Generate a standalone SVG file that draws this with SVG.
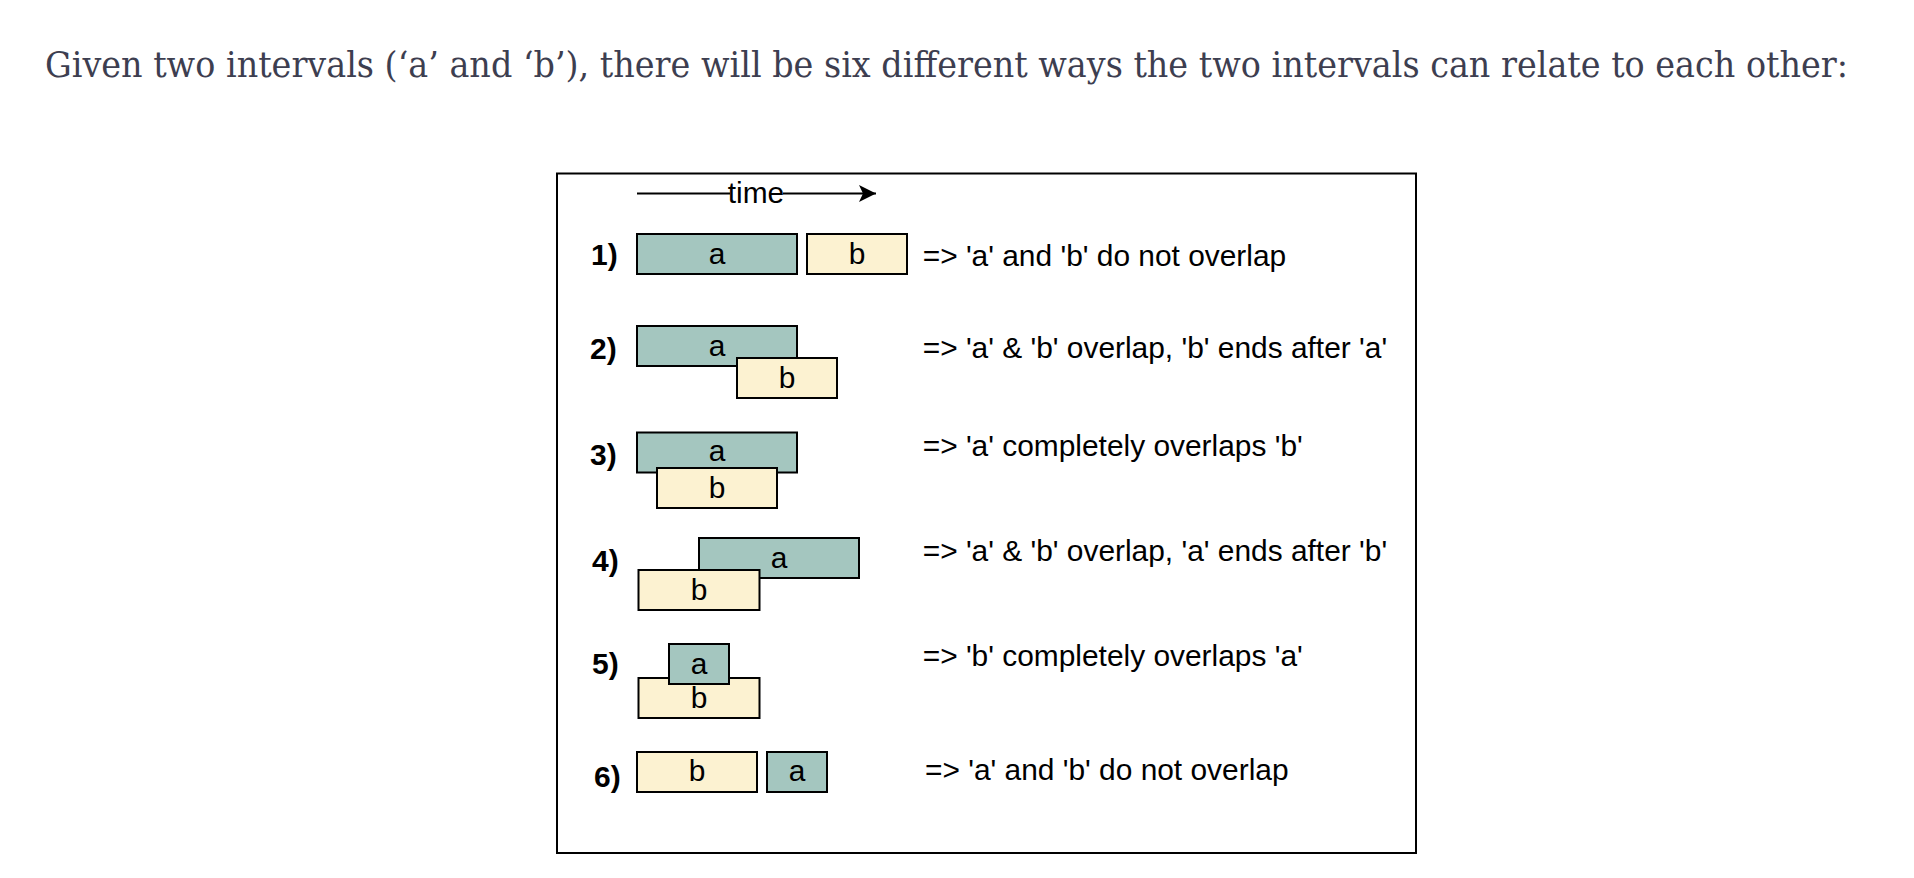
<svg xmlns="http://www.w3.org/2000/svg" width="1914" height="878" viewBox="0 0 1914 878">
  <style>
    .title { font-family: "DejaVu Serif", "Noto Serif", "Liberation Serif", serif; font-size: 34.5px; fill: #3d3e50; }
    .lbl { font-family: "Liberation Sans", Arial, sans-serif; font-size: 29.9px; fill: #000; }
    .num { font-family: "Liberation Sans", Arial, sans-serif; font-size: 30px; font-weight: bold; fill: #000; }
    .box { font-family: "Liberation Sans", Arial, sans-serif; font-size: 29.9px; fill: #000; text-anchor: middle; }
    .a { fill: #a4c6bf; stroke: #000; stroke-width: 2; }
    .b { fill: #fcf2d1; stroke: #000; stroke-width: 2; }
    .frame { fill: #fff; stroke: #000; stroke-width: 2; }
  </style>
  <defs>
    <marker id="arrow" markerUnits="userSpaceOnUse" markerWidth="20" markerHeight="20" refX="18" refY="9" orient="auto">
      <path d="M1,0.5 L18,9 L1,17.5 L5,9 Z" fill="#000"/>
    </marker>
  </defs>
  <rect width="1914" height="878" fill="#fff"/>
  <text class="title" x="45" y="77" textLength="1803" lengthAdjust="spacingAndGlyphs">Given two intervals (‘a’ and ‘b’), there will be six different ways the two intervals can relate to each other:</text>

  <rect id="frame" class="frame" x="557" y="173.5" width="859" height="679.5"/>

  <g id="connectors">
    <path d="M637,193.5 H876" stroke="#000" stroke-width="2" fill="none" marker-end="url(#arrow)"/>
    <rect x="730" y="180" width="53" height="26" fill="#fff"/>
    <text class="box" x="756" y="203">time</text>
  </g>

  <g id="row1">
    <text class="num" x="591" y="265">1)</text>
    <g id="r1a"><rect class="a" x="637" y="234" width="160" height="40"/><text class="box" x="717" y="264">a</text></g>
    <g id="r1b"><rect class="b" x="807" y="234" width="100" height="40"/><text class="box" x="857" y="264">b</text></g>
    <text class="lbl" x="922.7" y="266">=&gt; 'a' and 'b' do not overlap</text>
  </g>

  <g id="row2">
    <text class="num" x="590" y="359">2)</text>
    <g id="r2a"><rect class="a" x="637" y="326" width="160" height="40"/><text class="box" x="717" y="356">a</text></g>
    <g id="r2b"><rect class="b" x="737" y="358" width="100" height="40"/><text class="box" x="787" y="387.5">b</text></g>
    <text class="lbl" x="922.7" y="358">=&gt; 'a' &amp; 'b' overlap, 'b' ends after 'a'</text>
  </g>

  <g id="row3">
    <text class="num" x="590" y="465">3)</text>
    <g id="r3a"><rect class="a" x="637" y="432.5" width="160" height="40"/><text class="box" x="717" y="461">a</text></g>
    <g id="r3b"><rect class="b" x="657" y="468" width="120" height="40"/><text class="box" x="717" y="498">b</text></g>
    <text class="lbl" x="922.7" y="456">=&gt; 'a' completely overlaps 'b'</text>
  </g>

  <g id="row4">
    <text class="num" x="592" y="571">4)</text>
    <g id="r4a"><rect class="a" x="699" y="538" width="160" height="40"/><text class="box" x="779" y="567.5">a</text></g>
    <g id="r4b"><rect class="b" x="638.5" y="570" width="121" height="40"/><text class="box" x="699" y="600">b</text></g>
    <text class="lbl" x="922.7" y="561">=&gt; 'a' &amp; 'b' overlap, 'a' ends after 'b'</text>
  </g>

  <g id="row5">
    <text class="num" x="592" y="674">5)</text>
    <g id="r5b"><rect class="b" x="638.5" y="678" width="121" height="40"/><text class="box" x="699" y="708">b</text></g>
    <g id="r5a"><rect class="a" x="669" y="644" width="60" height="40"/><text class="box" x="699" y="674">a</text></g>
    <text class="lbl" x="922.7" y="666">=&gt; 'b' completely overlaps 'a'</text>
  </g>

  <g id="row6">
    <text class="num" x="594" y="787">6)</text>
    <g id="r6b"><rect class="b" x="637" y="752" width="120" height="40"/><text class="box" x="697" y="781">b</text></g>
    <g id="r6a"><rect class="a" x="767" y="752" width="60" height="40"/><text class="box" x="797" y="781">a</text></g>
    <text class="lbl" x="925" y="780">=&gt; 'a' and 'b' do not overlap</text>
  </g>
</svg>
